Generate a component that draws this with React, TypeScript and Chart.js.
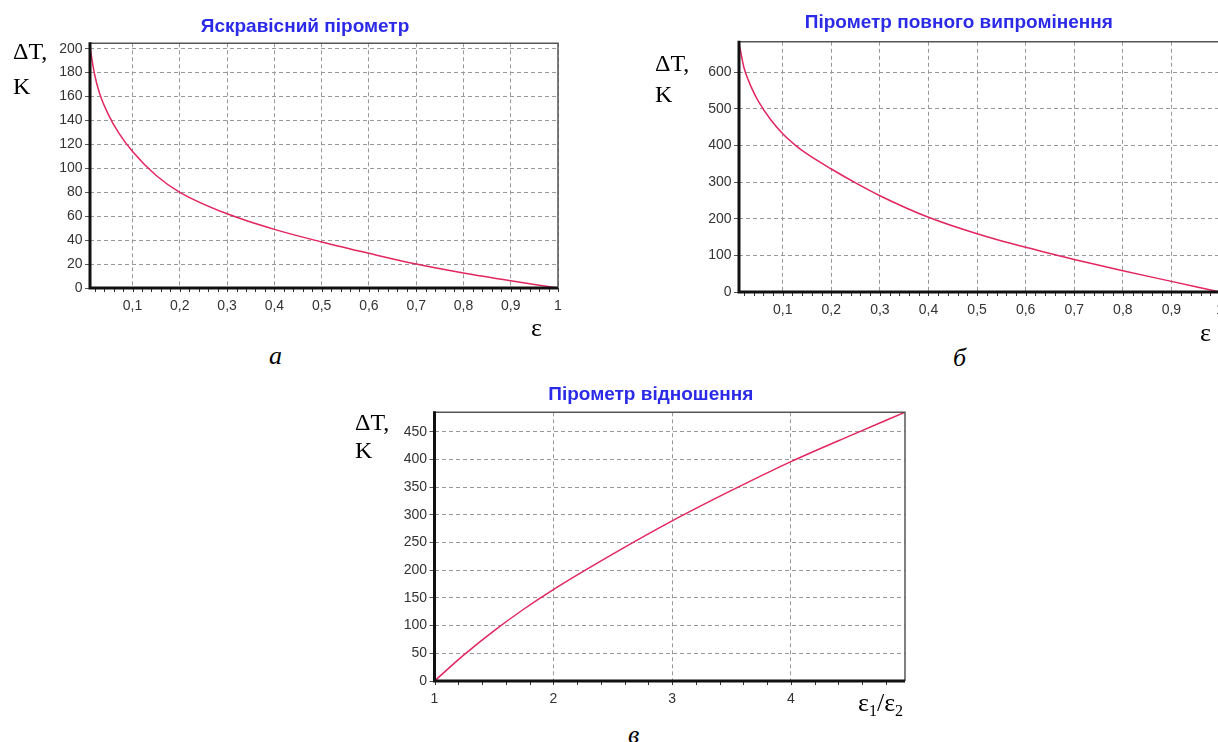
import React, { useEffect, useRef } from 'react';
import { Chart, registerables } from 'chart.js';

Chart.register(...registerables);

// ---------- Data: а — Яскравісний пірометр ----------
const EPS_A = [0.01, 0.02, 0.03, 0.05, 0.07, 0.1, 0.15, 0.2, 0.3, 0.4, 0.5, 0.6, 0.7, 0.8, 0.9, 0.95, 1];
const DT_A = [201, 178, 163, 144, 130, 114, 94, 80, 62, 49, 38.5, 29, 20, 12.5, 6, 3, 0];
const XTICKS_A = [0.1, 0.2, 0.3, 0.4, 0.5, 0.6, 0.7, 0.8, 0.9, 1];
const YTICKS_A = [0, 20, 40, 60, 80, 100, 120, 140, 160, 180, 200];

// ---------- Data: б — Пірометр повного випромінення ----------
const EPS_B = [0.01, 0.02, 0.03, 0.04, 0.05, 0.075, 0.1, 0.125, 0.15, 0.2, 0.25, 0.3, 0.4, 0.5, 0.6, 0.7, 0.8, 0.9, 1];
const DT_B = [680, 614, 576, 546, 521, 471, 432, 402, 377, 336, 298, 263, 204, 159, 122, 89, 58, 29, 0];
const XTICKS_B = [0.1, 0.2, 0.3, 0.4, 0.5, 0.6, 0.7, 0.8, 0.9, 1];
const YTICKS_B = [0, 100, 200, 300, 400, 500, 600];

// ---------- Data: в — Пірометр відношення ----------
const RATIO_C = [1, 1.25, 1.5, 1.75, 2, 2.5, 3, 3.5, 4, 4.5, 4.96];
const DT_C = [0, 47.5, 90.5, 129.5, 165, 229, 289, 344, 396, 443, 485];
const XTICKS_C = [1, 2, 3, 4];
const YTICKS_C = [0, 50, 100, 150, 200, 250, 300, 350, 400, 450];

const TITLES = ['Яскравісний пірометр', 'Пірометр повного випромінення', 'Пірометр відношення'];

const SANS = "'Liberation Sans', Arial, sans-serif";
const SERIF = "'Liberation Serif', 'Times New Roman', serif";
const LINE_COLOR = '#e2265f';
const TITLE_COLOR = '#2a2ae8';
const TITLE_SIZE = 19;

const fmt = (v: number) => String(v).replace('.', ',');

const framePlugin = {
  id: 'frame',
  afterDatasetsDraw(chart: any, _args: any, opts: any) {
    const { ctx, chartArea } = chart;
    const { left, right, top, bottom } = chartArea;
    ctx.save();
    ctx.strokeStyle = '#555';
    ctx.lineWidth = 1.5;
    ctx.beginPath();
    ctx.moveTo(left, top);
    ctx.lineTo(right, top);
    ctx.lineTo(right, bottom);
    ctx.stroke();
    const xs = chart.scales.x;
    const step = opts.minorStep;
    ctx.strokeStyle = '#333';
    ctx.lineWidth = 1;
    const n0 = Math.ceil(xs.min / step - 1e-6);
    const n1 = Math.floor(xs.max / step + 1e-6);
    ctx.beginPath();
    for (let n = n0; n <= n1; n++) {
      const p = Math.round(xs.getPixelForValue(n * step)) + 0.5;
      ctx.moveTo(p, bottom);
      ctx.lineTo(p, bottom + 4);
    }
    ctx.stroke();
    ctx.strokeStyle = '#111';
    ctx.lineWidth = 3;
    ctx.beginPath();
    ctx.moveTo(left, top - 1);
    ctx.lineTo(left, bottom);
    ctx.lineTo(right, bottom);
    ctx.stroke();
    ctx.restore();
  },
};

type PanelProps = {
  title: string;
  xs: number[];
  ys: number[];
  xTicks: number[];
  yTicks: number[];
  xMin: number;
  xMax: number;
  yMax: number;
  minorStep: number;
  box: { left: number; top: number; width: number; height: number };
  pad: { left: number; right: number; top: number };
  yW: number;
  xH: number;
  titlePadB: number;
};

function Panel(p: PanelProps) {
  const ref = useRef<HTMLCanvasElement | null>(null);
  useEffect(() => {
    if (!ref.current) return;
    const gridColor = '#999';
    const chart = new Chart(ref.current, {
      type: 'line',
      data: {
        datasets: [
          {
            data: p.xs.map((x, i) => ({ x, y: p.ys[i] })),
            borderColor: LINE_COLOR,
            borderWidth: 1.5,
            pointRadius: 0,
            fill: false,
            cubicInterpolationMode: 'monotone',
          } as any,
        ],
      },
      options: {
        animation: false,
        responsive: false,
        layout: { padding: { left: p.pad.left, right: p.pad.right, top: p.pad.top, bottom: 0 } },
        plugins: {
          legend: { display: false },
          tooltip: { enabled: false },
          title: {
            display: true,
            text: p.title,
            color: TITLE_COLOR,
            font: { family: SANS, size: TITLE_SIZE, weight: 'bold', lineHeight: 1.2 },
            padding: { top: 0, bottom: p.titlePadB },
          },
          frame: { minorStep: p.minorStep },
        } as any,
        scales: {
          x: {
            type: 'linear',
            min: p.xMin,
            max: p.xMax,
            afterBuildTicks: (s: any) => {
              s.ticks = p.xTicks.map((v) => ({ value: v }));
            },
            afterFit: (s: any) => {
              s.height = p.xH;
            },
            ticks: {
              callback: (v: any) => fmt(Number(v)),
              font: { family: SANS, size: 14 },
              color: '#333',
              padding: 10,
              maxRotation: 0,
              autoSkip: false,
            },
            grid: { drawTicks: false, color: gridColor, lineWidth: 1 },
            border: { display: false, dash: [4, 3] },
          },
          y: {
            type: 'linear',
            min: 0,
            max: p.yMax,
            afterBuildTicks: (s: any) => {
              s.ticks = p.yTicks.map((v) => ({ value: v }));
            },
            afterFit: (s: any) => {
              s.width = p.yW;
            },
            ticks: {
              font: { family: SANS, size: 14 },
              color: '#333',
              padding: 2.5,
              autoSkip: false,
            },
            grid: { drawTicks: true, tickLength: 5, tickColor: '#555', color: gridColor, lineWidth: 1 },
            border: { display: false, dash: [4, 3] },
          },
        },
      } as any,
      plugins: [framePlugin],
    });
    return () => chart.destroy();
  }, []);
  return (
    <div style={{ position: 'absolute', left: p.box.left, top: p.box.top, width: p.box.width, height: p.box.height }}>
      <canvas ref={ref} width={p.box.width} height={p.box.height} style={{ display: 'block', width: p.box.width, height: p.box.height }} />
    </div>
  );
}

function Txt({ left, top, size, italic, children }: { left: number; top: number; size: number; italic?: boolean; children: any }) {
  return (
    <div
      style={{
        position: 'absolute',
        left,
        top,
        fontFamily: SERIF,
        fontSize: size,
        lineHeight: `${size}px`,
        fontStyle: italic ? 'italic' : 'normal',
        color: '#000',
        whiteSpace: 'nowrap',
      }}
    >
      {children}
    </div>
  );
}

const Sub = ({ children }: { children: any }) => (
  <span style={{ fontSize: 16, verticalAlign: '-0.3em', lineHeight: 0 }}>{children}</span>
);

export default function App() {
  return (
    <div style={{ position: 'absolute', left: 0, top: 0, width: 1218, height: 742, overflow: 'hidden', background: '#fff' }}>
      <Panel
        title={TITLES[0]}
        xs={EPS_A}
        ys={DT_A}
        xTicks={XTICKS_A}
        yTicks={YTICKS_A}
        xMin={0.01}
        xMax={1}
        yMax={204.5}
        minorStep={0.02}
        box={{ left: 0, top: 0, width: 578, height: 318 }}
        pad={{ left: 52, right: 20, top: 15.6 }}
        yW={38}
        xH={30}
        titlePadB={4.9}
      />
      <Panel
        title={TITLES[1]}
        xs={EPS_B}
        ys={DT_B}
        xTicks={XTICKS_B}
        yTicks={YTICKS_B}
        xMin={0.01}
        xMax={1}
        yMax={683.4}
        minorStep={0.02}
        box={{ left: 640, top: 0, width: 600, height: 322 }}
        pad={{ left: 57.6, right: 20, top: 11.6 }}
        yW={41.4}
        xH={30}
        titlePadB={7.4}
      />
      <Panel
        title={TITLES[2]}
        xs={RATIO_C}
        ys={DT_C}
        xTicks={XTICKS_C}
        yTicks={YTICKS_C}
        xMin={1}
        xMax={4.96}
        yMax={485}
        minorStep={0.2}
        box={{ left: 340, top: 370, width: 585, height: 341 }}
        pad={{ left: 56.6, right: 20, top: 13.6 }}
        yW={37.9}
        xH={30}
        titlePadB={5.9}
      />

      <Txt left={13} top={38.5} size={24}>ΔT,</Txt>
      <Txt left={13} top={73.5} size={24}>K</Txt>
      <Txt left={531} top={315} size={26}>ε</Txt>
      <Txt left={269} top={343} size={26} italic>a</Txt>

      <Txt left={655} top={50.8} size={24}>ΔT,</Txt>
      <Txt left={655} top={81.5} size={24}>K</Txt>
      <Txt left={1200} top={320} size={26}>ε</Txt>
      <Txt left={953} top={345} size={26} italic>б</Txt>

      <Txt left={355} top={409.8} size={24}>ΔT,</Txt>
      <Txt left={355} top={437.8} size={24}>K</Txt>
      <Txt left={858} top={690} size={26}>
        ε<Sub>1</Sub>/ε<Sub>2</Sub>
      </Txt>
      <Txt left={628} top={721.5} size={26} italic>в</Txt>
    </div>
  );
}
